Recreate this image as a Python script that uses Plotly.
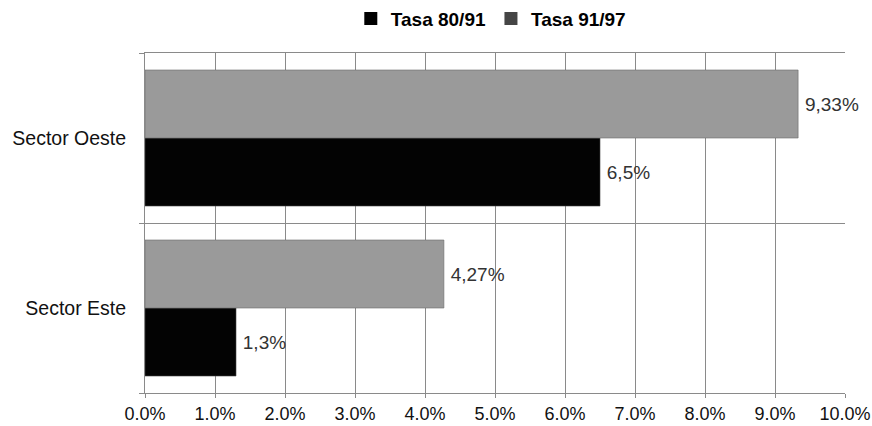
import plotly.graph_objects as go

# Growth rates by sector (percent)
sectors = ["Sector Este", "Sector Oeste"]
tasa_80_91 = [1.3, 6.5]
tasa_91_97 = [4.27, 9.33]
series_names = ["Tasa 80/91", "Tasa 91/97"]
x_ticks = [0, 1, 2, 3, 4, 5, 6, 7, 8, 9, 10]


def pct_label(v):
    # thin space keeps the label a little off the bar end
    return "\u2009" + f"{v:g}".replace(".", ",") + "%"


FONT = "Liberation Sans, Arial, sans-serif"
GRID = "#8a8a8a"

fig = go.Figure()

fig.add_trace(go.Bar(
    y=sectors, x=tasa_80_91, orientation="h", name=series_names[0],
    marker=dict(color="#030303", line=dict(color="#444", width=0.6)),
    text=[pct_label(v) for v in tasa_80_91], textposition="outside",
    textfont=dict(family=FONT, size=19, color="#333"),
    cliponaxis=False, showlegend=False,
))
fig.add_trace(go.Bar(
    y=sectors, x=tasa_91_97, orientation="h", name=series_names[1],
    marker=dict(color="#9a9a9a", line=dict(color="#6a6a6a", width=0.6)),
    text=[pct_label(v) for v in tasa_91_97], textposition="outside",
    textfont=dict(family=FONT, size=19, color="#333"),
    cliponaxis=False, showlegend=False,
))

# Legend entries drawn as small squares
for name, col in zip(series_names, ["#000000", "#454545"]):
    fig.add_trace(go.Scatter(
        x=[None], y=[None], mode="markers", name=name,
        marker=dict(symbol="square", size=13, color=col),
    ))

fig.update_layout(
    width=872, height=426,
    margin=dict(l=145, r=27, t=53, b=33, autoexpand=False),
    paper_bgcolor="white", plot_bgcolor="white",
    barmode="group", bargap=0.2, bargroupgap=0,
    font=dict(family=FONT, size=18, color="#111"),
    legend=dict(
        orientation="h", x=0.494, xanchor="center",
        yref="container", y=0.956, yanchor="middle",
        font=dict(family=FONT, size=19, color="#000", weight="bold"),
        itemwidth=30, traceorder="normal",
    ),
    xaxis=dict(
        range=[0, 10], tickvals=x_ticks,
        ticktext=[f"{v:.1f}%" for v in x_ticks],
        showgrid=True, gridcolor=GRID, gridwidth=1,
        showline=True, linecolor=GRID, linewidth=1, mirror=True,
        ticks="outside", ticklen=4, tickcolor=GRID,
        zeroline=False, automargin=False,
        tickfont=dict(family=FONT, size=18, color="#111"),
    ),
    yaxis=dict(
        type="category", range=[-0.5, 1.5],
        tickson="boundaries", ticks="outside", ticklen=5, tickcolor=GRID,
        showgrid=True, gridcolor=GRID, gridwidth=1,
        showline=True, linecolor=GRID, linewidth=1,
        ticklabelstandoff=14, automargin=False,
        tickfont=dict(family=FONT, size=19.5, color="#111"),
    ),
)

fig.write_html("out.html")
